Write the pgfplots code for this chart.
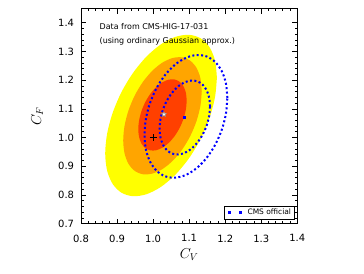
\documentclass[border=0pt]{standalone}
\usepackage{pgfplots}
\pgfplotsset{compat=1.18}
\usepackage{fontspec}
\setmainfont{DejaVu Sans}
\usetikzlibrary{shapes.geometric}
\definecolor{cyel}{RGB}{255,255,0}
\definecolor{corg}{RGB}{255,165,0}
\definecolor{cred}{RGB}{255,64,0}
\definecolor{cblue}{RGB}{0,0,255}
\pgfdeclareplotmark{fstar}{\node[star,star points=5,star point ratio=2.4,fill=white,draw=gray,line width=0.4bp,inner sep=0pt,minimum size=5.5bp]{};}
\begin{document}
\begin{tikzpicture}
\begin{axis}[
  scale only axis, width=216bp, height=215bp,
  xmin=0.8, xmax=1.4, ymin=0.7, ymax=1.45,
  xtick={0.8,0.9,1.0,1.1,1.2,1.3,1.4},
  ytick={0.7,0.8,0.9,1.0,1.1,1.2,1.3,1.4},
  minor x tick num=4, minor y tick num=4,
  tick align=inside,
  major tick length=5bp, minor tick length=2.5bp,
  tick style={black, line width=0.8bp},
  axis line style={line width=0.8bp},
  /pgf/number format/assume math mode=true,
  /pgf/number format/fixed,
  /pgf/number format/fixed zerofill,
  /pgf/number format/precision=1,
  ticklabel style={font=\fontsize{10}{12}\selectfont},
  xticklabel style={yshift=-7.5bp},
  yticklabel style={xshift=-3.5bp},
  xlabel={$C_V$}, ylabel={$C_F$},
  label style={font=\fontsize{14}{16}\selectfont},
  xlabel style={at={(axis description cs:0.5,0)}, anchor=base, yshift=-34.7bp},
  ylabel style={at={(axis description cs:-0.185,0.5)}, anchor=base},
  legend style={at={(1,0)}, anchor=south east, xshift=-3bp, yshift=4.5bp,
    font=\fontsize{7.5}{9}\selectfont, draw=black, line width=0.5bp, fill=white,
    inner sep=1bp, row sep=0pt},
  legend cell align=left,
]
% 3 sigma
\addplot[fill=cyel, draw=none, smooth, forget plot] coordinates {
(1.1770,1.2093) (1.1717,1.2691) (1.1562,1.3158) (1.1316,1.3463) (1.0995,1.3583) (1.0621,1.3512)
(1.0220,1.3255) (0.9819,1.2828) (0.9445,1.2260) (0.9124,1.1592) (0.8878,1.0867) (0.8723,1.0135)
(0.8670,0.9447) (0.8723,0.8849) (0.8878,0.8382) (0.9124,0.8077) (0.9445,0.7957) (0.9819,0.8028)
(1.0220,0.8285) (1.0621,0.8712) (1.0995,0.9280) (1.1316,0.9948) (1.1562,1.0673) (1.1717,1.1405)
(1.1770,1.2093)};
% 2 sigma
\addplot[fill=corg, draw=none, smooth, forget plot] coordinates {
(1.1350,1.1619) (1.1313,1.2070) (1.1204,1.2432) (1.1031,1.2680) (1.0805,1.2797) (1.0542,1.2775)
(1.0260,1.2616) (0.9978,1.2330) (0.9715,1.1938) (0.9489,1.1465) (0.9316,1.0944) (0.9207,1.0411)
(0.9170,0.9901) (0.9207,0.9450) (0.9316,0.9088) (0.9489,0.8840) (0.9715,0.8723) (0.9978,0.8745)
(1.0260,0.8904) (1.0542,0.9190) (1.0805,0.9582) (1.1031,1.0055) (1.1204,1.0576) (1.1313,1.1109)
(1.1350,1.1619)};
% 1 sigma
\addplot[fill=cred, draw=none, smooth, forget plot] coordinates {
(1.0932,1.1288) (1.0909,1.1566) (1.0842,1.1791) (1.0735,1.1948) (1.0596,1.2026) (1.0434,1.2020)
(1.0260,1.1930) (1.0086,1.1763) (0.9924,1.1529) (0.9785,1.1244) (0.9678,1.0929) (0.9611,1.0604)
(0.9588,1.0292) (0.9611,1.0014) (0.9678,0.9789) (0.9785,0.9632) (0.9924,0.9554) (1.0086,0.9560)
(1.0260,0.9650) (1.0434,0.9817) (1.0596,1.0051) (1.0735,1.0336) (1.0842,1.0651) (1.0909,1.0976)
(1.0932,1.1288)};
% CMS official, 2 sigma
\addplot[cblue, line width=2bp, line cap=butt, dash pattern=on 2bp off 2.4bp, smooth, forget plot]
coordinates {
(1.2060,1.1382) (1.2021,1.1889) (1.1906,1.2317) (1.1723,1.2637) (1.1485,1.2829) (1.1208,1.2878)
(1.0910,1.2781) (1.0612,1.2546) (1.0335,1.2187) (1.0097,1.1730) (0.9914,1.1205) (0.9799,1.0648)
(0.9760,1.0098) (0.9799,0.9591) (0.9914,0.9163) (1.0097,0.8843) (1.0335,0.8651) (1.0612,0.8602)
(1.0910,0.8699) (1.1208,0.8934) (1.1485,0.9293) (1.1723,0.9750) (1.1906,1.0275) (1.2021,1.0832)
(1.2060,1.1382)};
% CMS official, 1 sigma
\addplot[cblue, line width=2bp, line cap=butt, dash pattern=on 2bp off 2.4bp, smooth, forget plot]
coordinates {
(1.1580,1.1087) (1.1556,1.1392) (1.1486,1.1650) (1.1375,1.1844) (1.1230,1.1959) (1.1061,1.1989)
(1.0880,1.1931) (1.0699,1.1789) (1.0530,1.1572) (1.0385,1.1296) (1.0274,1.0980) (1.0204,1.0645)
(1.0180,1.0313) (1.0204,1.0008) (1.0274,0.9750) (1.0385,0.9556) (1.0530,0.9441) (1.0699,0.9411)
(1.0880,0.9469) (1.1061,0.9611) (1.1230,0.9828) (1.1375,1.0104) (1.1486,1.0420) (1.1556,1.0755)
(1.1580,1.1087)};
\addlegendimage{legend image code/.code={\path[draw=none,fill=none] (-1bp,0) -- (19bp,0); \fill[cblue] (2bp,-1bp) rectangle (4bp,1bp); \fill[cblue] (13bp,-1bp) rectangle (15bp,1bp);}}
\addlegendentry{CMS official}
% SM point
\addplot[only marks, mark=+, mark size=3.5bp, black, line width=0.6bp, forget plot] coordinates {(1.0,1.0)};
% best fit
\addplot[only marks, mark=fstar, forget plot] coordinates {(1.030,1.081)};
% CMS best fit
\addplot[only marks, mark=square*, mark size=1bp, cblue, forget plot] coordinates {(1.087,1.070)};
\node[anchor=base west, font=\fontsize{8}{10}\selectfont, inner sep=0pt] at (axis cs:0.851,1.3766) {Data from CMS-HIG-17-031};
\node[anchor=base west, font=\fontsize{8}{10}\selectfont, inner sep=0pt] at (axis cs:0.851,1.3265) {(using ordinary Gaussian approx.)};
\end{axis}
\path ([shift={(-81bp,-49.7bp)}]current axis.south west) rectangle ([shift={(66.7bp,8.5bp)}]current axis.north east);
\end{tikzpicture}
\end{document}
